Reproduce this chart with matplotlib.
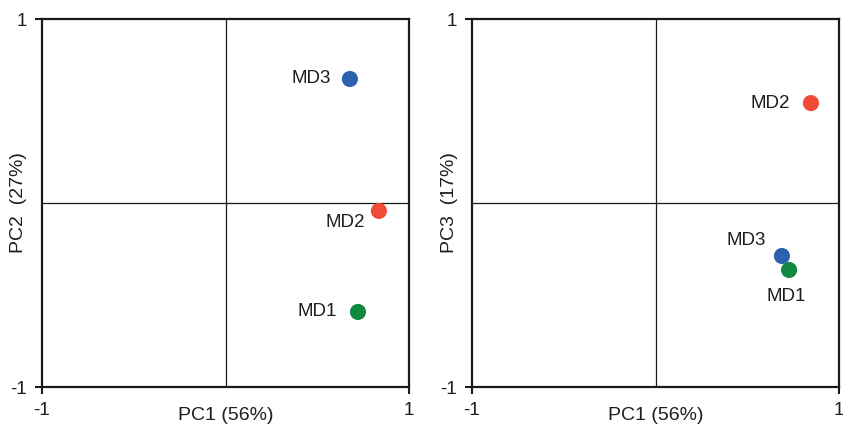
import matplotlib
matplotlib.use("Agg")
import matplotlib.pyplot as plt

plt.rcParams['font.family'] = ['Liberation Sans', 'DejaVu Sans']

samples = ["MD1", "MD2", "MD3"]
colors = ["#118A3F", "#F04B36", "#2A62B0"]

pc1 = [0.722, 0.836, 0.678]
pc2 = [-0.592, -0.043, 0.674]

pc1_r = [0.728, 0.847, 0.689]
pc3_r = [-0.364, 0.543, -0.288]

x_label = "PC1 (56%)"
y_label_left = "PC2  (27%)"
y_label_right = "PC3  (17%)"

# label offsets in points (dx, dy, ha, va)
offs_left = {"MD1": (-15, 0, "right", "center"),
             "MD2": (-10, -8, "right", "center"),
             "MD3": (-14, 0, "right", "center")}
offs_right = {"MD1": (-2, -19, "center", "center"),
              "MD2": (-15, 0, "right", "center"),
              "MD3": (-26, 11, "center", "center")}

fig = plt.figure(figsize=(8.43, 4.25), dpi=100)
W, H = 843, 425
ax1 = fig.add_axes([42 / W, 1 - 387 / H, 367 / W, 368 / H])
ax2 = fig.add_axes([472 / W, 1 - 387 / H, 367 / W, 368 / H])

txtc = "#1e1e1e"
for ax, xs, ys, yl, offs in [(ax1, pc1, pc2, y_label_left, offs_left),
                             (ax2, pc1_r, pc3_r, y_label_right, offs_right)]:
    ax.set_xlim(-1, 1)
    ax.set_ylim(-1, 1)
    ax.axhline(0, color="#1a1a1a", lw=0.9, zorder=1)
    ax.axvline(0, color="#1a1a1a", lw=0.9, zorder=1)
    for s, x, y, c in zip(samples, xs, ys, colors):
        ax.scatter([x], [y], s=135, color=c, zorder=3, edgecolors="none")
        dx, dy, ha, va = offs[s]
        ax.annotate(s, (x, y), xytext=(dx, dy), textcoords="offset points",
                    ha=ha, va=va, fontsize=13.5, color=txtc)
    ax.set_xticks([-1, 1])
    ax.set_yticks([-1, 1])
    ax.set_xticklabels(["-1", "1"])
    ax.set_yticklabels(["-1", "1"])
    ax.tick_params(direction="out", length=5, width=1.5, labelsize=13.5,
                   labelcolor=txtc, color="#1a1a1a", pad=6)
    for sp in ax.spines.values():
        sp.set_linewidth(1.6)
        sp.set_color("#1a1a1a")
    ax.set_xlabel(x_label, fontsize=14, color=txtc, va="center")
    ax.set_ylabel(yl, fontsize=14, color=txtc, va="center")
    ax.xaxis.set_label_coords(0.5, -29 / 368)
    ax.yaxis.set_label_coords(-23 / 367, 0.5)

fig.savefig("out.png", dpi=100)
